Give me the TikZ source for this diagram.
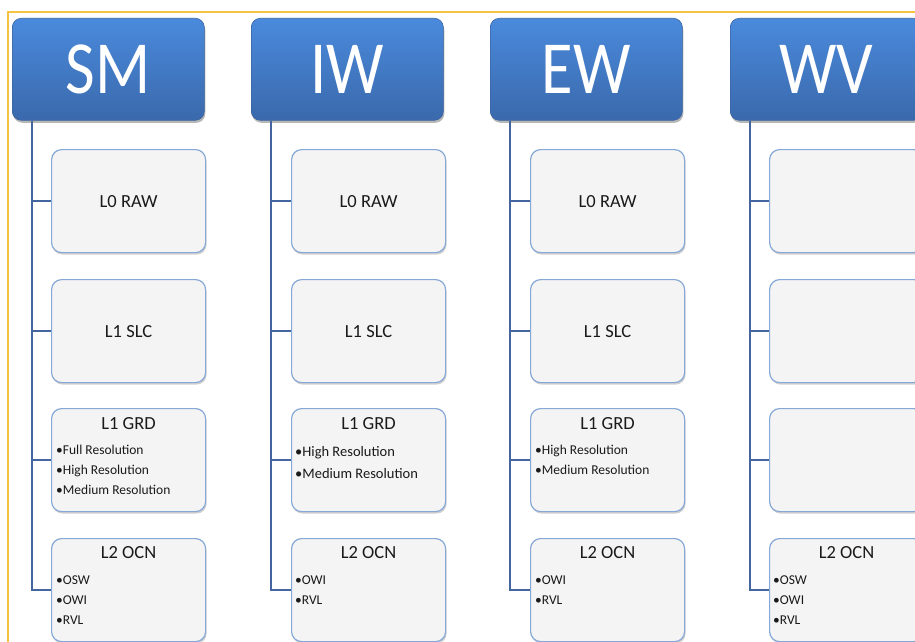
\documentclass[tikz,border=0pt]{standalone}
\usepackage{fontspec}
\usepackage{graphicx}
\setmainfont{Carlito}
\usetikzlibrary{shadows}
\definecolor{hdtop}{HTML}{4A8ADC}
\definecolor{hdbot}{HTML}{3A69AC}
\definecolor{hdline}{HTML}{3C649F}
\definecolor{chfill}{HTML}{F4F4F4}
\definecolor{chline}{HTML}{86A8D6}
\definecolor{conncol}{HTML}{4466A0}
\definecolor{framecol}{HTML}{F5C242}
\definecolor{txt}{HTML}{1A1A1A}
\tikzset{
  hdr/.style={anchor=north west, rounded corners=9pt, minimum width=192pt, minimum height=102pt,
    top color=hdtop, bottom color=hdbot, draw=hdline, line width=0.6pt, text=white,
    font=\fontsize{75}{75}\selectfont, inner sep=0pt,
    drop shadow={shadow xshift=1pt, shadow yshift=-2.5pt, opacity=0.4, fill=black!70}},
  chbox/.style={anchor=north west, rounded corners=10pt, minimum width=154pt, minimum height=103pt,
    fill=chfill, draw=chline, line width=1.2pt, text=txt, inner sep=0pt,
    font=\fontsize{18.5}{20}\selectfont,
    drop shadow={shadow xshift=1pt, shadow yshift=-2pt, opacity=0.3, fill=black!60}},
  ttl/.style={anchor=base, text=txt, inner sep=0pt, font=\fontsize{18.5}{20}\selectfont},
  bul/.style={anchor=base west, text=txt, inner sep=0pt, font=\fontsize{13.5}{15}\selectfont},
  bulb/.style={anchor=base west, text=txt, inner sep=0pt, font=\fontsize{14.5}{16}\selectfont},
  conn/.style={draw=conncol, line width=2.2pt},
}
\newcommand\hdtext[1]{\scalebox{0.86}[1]{#1}}
\begin{document}
\begin{tikzpicture}[x=1pt,y=-1pt]
\useasboundingbox (0,0) rectangle (915,642);
\clip (0,0) rectangle (915,642);
\fill[white] (0,0) rectangle (915,642);
% frame
\draw[framecol, line width=1.5pt] (8,650) -- (8,12) -- (930,12);

% headers
\node[hdr] (h1) at (12,18) {\hdtext{SM}};
\node[hdr] (h2) at (251,18) {\hdtext{IW}};
\node[hdr] (h3) at (490,18) {\hdtext{EW}};
\node[hdr] (h4) at (730,18) {\hdtext{WV}};

% SM children
\node[chbox] (c11) at (51,149) {L0 RAW};
\node[chbox] (c12) at (51,279) {L1 SLC};
\node[chbox] (c13) at (51,408) {};
\node[chbox] (c14) at (51,538) {};
% IW children
\node[chbox] (c21) at (291,149) {L0 RAW};
\node[chbox] (c22) at (291,279) {L1 SLC};
\node[chbox] (c23) at (291,408) {};
\node[chbox] (c24) at (291,538) {};
% EW children
\node[chbox] (c31) at (530,149) {L0 RAW};
\node[chbox] (c32) at (530,279) {L1 SLC};
\node[chbox] (c33) at (530,408) {};
\node[chbox] (c34) at (530,538) {};
% WV children
\node[chbox] (c41) at (769,149) {};
\node[chbox] (c42) at (769,279) {};
\node[chbox] (c43) at (769,408) {};
\node[chbox] (c44) at (769,538) {};

% connectors
\foreach \i in {1,2,3,4}{
  \foreach \j in {1,2,3,4}{
    \draw[conn] ([xshift=20pt]h\i.south west) |- (c\i\j.west);
  }
}

% titles
\node[ttl] (t13) at ([yshift=-21pt]c13.north) {L1 GRD};
\node[ttl] (t14) at ([yshift=-20pt]c14.north) {L2 OCN};
\node[ttl] (t23) at ([yshift=-21pt]c23.north) {L1 GRD};
\node[ttl] (t24) at ([yshift=-20pt]c24.north) {L2 OCN};
\node[ttl] (t33) at ([yshift=-21pt]c33.north) {L1 GRD};
\node[ttl] (t34) at ([yshift=-20pt]c34.north) {L2 OCN};
\node[ttl] (t44) at ([yshift=-20pt]c44.north) {L2 OCN};

% SM bullets
\node[bul] (b131) at ([xshift=5pt,yshift=-46pt]c13.north west) {•Full Resolution};
\node[bul] (b132) at ([xshift=5pt,yshift=-66pt]c13.north west) {•High Resolution};
\node[bul] (b133) at ([xshift=5pt,yshift=-86pt]c13.north west) {•Medium Resolution};
\node[bul] (b141) at ([xshift=5pt,yshift=-46pt]c14.north west) {•OSW};
\node[bul] (b142) at ([xshift=5pt,yshift=-66pt]c14.north west) {•OWI};
\node[bul] (b143) at ([xshift=5pt,yshift=-86pt]c14.north west) {•RVL};
% IW bullets
\node[bulb] (b231) at ([xshift=4pt,yshift=-48pt]c23.north west) {•High Resolution};
\node[bulb] (b232) at ([xshift=4pt,yshift=-70pt]c23.north west) {•Medium Resolution};
\node[bul] (b241) at ([xshift=4pt,yshift=-46pt]c24.north west) {•OWI};
\node[bul] (b242) at ([xshift=4pt,yshift=-66pt]c24.north west) {•RVL};
% EW bullets
\node[bul] (b331) at ([xshift=5pt,yshift=-46pt]c33.north west) {•High Resolution};
\node[bul] (b332) at ([xshift=5pt,yshift=-66pt]c33.north west) {•Medium Resolution};
\node[bul] (b341) at ([xshift=5pt,yshift=-46pt]c34.north west) {•OWI};
\node[bul] (b342) at ([xshift=5pt,yshift=-66pt]c34.north west) {•RVL};
% WV bullets
\node[bul] (b441) at ([xshift=4pt,yshift=-46pt]c44.north west) {•OSW};
\node[bul] (b442) at ([xshift=4pt,yshift=-66pt]c44.north west) {•OWI};
\node[bul] (b443) at ([xshift=4pt,yshift=-86pt]c44.north west) {•RVL};
\end{tikzpicture}
\end{document}
